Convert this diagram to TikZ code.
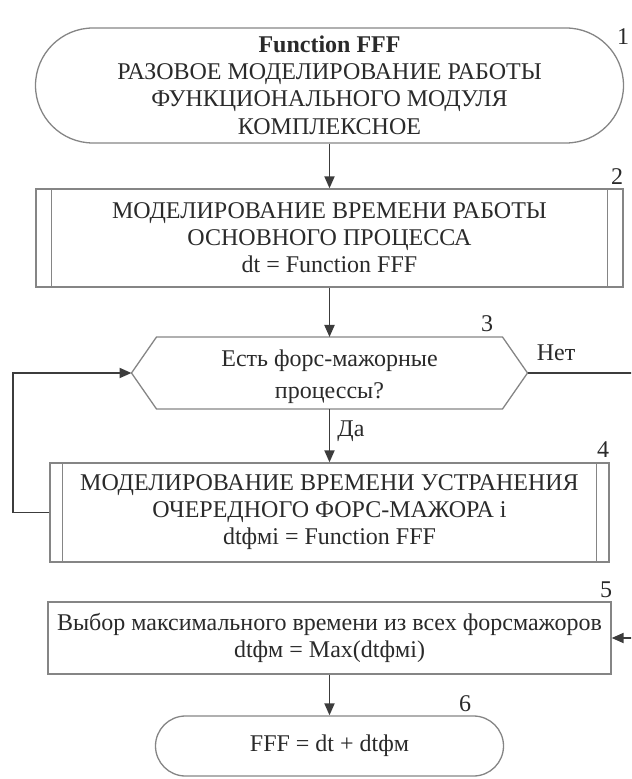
\documentclass[tikz,border=0pt]{standalone}
\usepackage{fontspec}
\setmainfont{Liberation Serif}
\usetikzlibrary{arrows.meta,calc}
\definecolor{txt}{HTML}{2A2A2A}
\definecolor{edgec}{HTML}{858585}
\definecolor{conn}{HTML}{3C3C3C}
\begin{document}
\begin{tikzpicture}[x=0.5pt,y=-0.5pt,
  every node/.style={font=\fontsize{12}{13.5}\selectfont, text=txt},
  box/.style={draw=edgec, line width=0.65pt, inner sep=0pt, align=center},
  term/.style={box, rounded corners=#1},
  edgeline/.style={draw=edgec, line width=0.65pt},
  link/.style={draw=conn, line width=0.95pt},
  arr/.style={link, -{Triangle[length=6pt,width=5pt]}},
  numlab/.style={inner sep=0pt}]
\useasboundingbox (0,0) rectangle (631,779);
\clip (0,0) rectangle (631,779);

% 1
\node[term=28.75pt, minimum width=294pt, minimum height=57.5pt] (n1) at (329.5,85.5)
  {\textbf{Function FFF}\\[0.1pt]РАЗОВОЕ МОДЕЛИРОВАНИЕ РАБОТЫ\\ФУНКЦИОНАЛЬНОГО МОДУЛЯ\\[0.5pt]КОМПЛЕКСНОЕ};
\node[numlab] (lab1) at (623,37) {1};

% 2
\node[box, minimum width=293.5pt, minimum height=49pt] (n2) at (329.5,238)
  {МОДЕЛИРОВАНИЕ ВРЕМЕНИ РАБОТЫ\\ОСНОВНОГО ПРОЦЕССА\\dt = Function FFF};
\draw[edgeline] ([xshift=8pt]n2.north west) -- ([xshift=8pt]n2.south west);
\draw[edgeline] ([xshift=-8pt]n2.north east) -- ([xshift=-8pt]n2.south east);
\node[numlab] (lab2) at (617,177) {2};

% 3 (hexagon)
\node[align=center, inner sep=0pt, font=\fontsize{12}{16}\selectfont] (n3) at (329.5,377)
  {Есть форс-мажорные\\процессы?};
\coordinate (q3w) at (131.5,373);
\coordinate (q3e) at (527.5,373);
\coordinate (q3n) at (329.5,337);
\coordinate (q3s) at (329.5,409);
\draw[edgeline] (q3w) -- (156.5,337) -- (502.5,337) -- (q3e) -- (502.5,409) -- (156.5,409) -- cycle;
\node[numlab] (lab3) at (487,324) {3};

% 4
\node[box, minimum width=279.5pt, minimum height=49.5pt] (n4) at (329.5,512.5)
  {МОДЕЛИРОВАНИЕ ВРЕМЕНИ УСТРАНЕНИЯ\\ОЧЕРЕДНОГО ФОРС-МАЖОРА i\\dtфмi = Function FFF};
\draw[edgeline] ([xshift=6.5pt]n4.north west) -- ([xshift=6.5pt]n4.south west);
\draw[edgeline] ([xshift=-6.5pt]n4.north east) -- ([xshift=-6.5pt]n4.south east);
\node[numlab] (lab4) at (603,450) {4};

% 5
\node[box, minimum width=281.5pt, minimum height=36pt] (n5) at (329.5,638)
  {Выбор максимального времени из всех форсмажоров\\dtфм = Max(dtфмi)};
\node[numlab] (lab5) at (606,590) {5};

% 6
\node[term=15pt, minimum width=174pt, minimum height=30pt] (n6) at (329.5,746)
  {FFF = dt + dtфм};
\node[numlab] (lab6) at (465,704) {6};

% connectors
\draw[arr] (n1.south) -- (n2.north);
\draw[arr] (n2.south) -- (q3n);
\draw[arr] (q3s) -- (n4.north);
\node[numlab] (lda) at (351,431) {Да};
\draw[arr] (n4.west) -- ++(-36,0) |- (q3w);
\coordinate (offr) at (680,373);
\draw[arr] (q3e) -- (offr) |- (n5.east);
\node[numlab] (lnet) at (556,353) {Нет};
\draw[arr] (n5.south) -- (n6.north);
\end{tikzpicture}
\end{document}
